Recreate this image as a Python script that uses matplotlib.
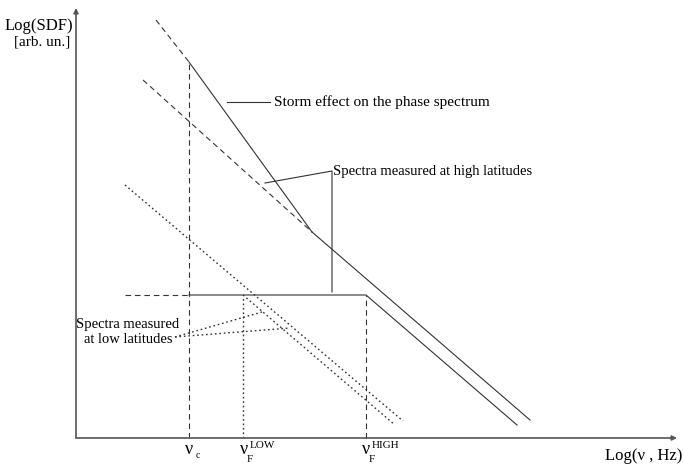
import matplotlib
matplotlib.use('Agg')
import matplotlib.pyplot as plt

# schematic in figure-pixel units (y measured upward)
axis_origin = (76, 30)
axis_top = 460
axis_right = 677

# storm effect line: dashed part, then solid part
storm_dash_x = [156, 189]
storm_dash_y = [448, 406]
storm_solid_x = [189, 312]
storm_solid_y = [406, 236]

# high latitude spectra
high_a_dash_x = [143, 312]
high_a_dash_y = [388, 236]
high_a_solid_x = [312, 530]
high_a_solid_y = [236, 48]
high_b_dash_x = [125, 189]
high_b_dash_y = [173, 173]
high_b_solid_x = [189, 366, 517]
high_b_solid_y = [173, 173, 43]

# low latitude spectra (dotted)
low_c_x = [125, 403]
low_c_y = [283, 47]
low_d_x = [243, 395]
low_d_y = [173, 43]

# marker frequencies
nu_c = 189
nu_f_low = 243
nu_f_high = 366
nu_c_top = 406
nu_f_low_top = 171
nu_f_high_top = 173

# pointer lines
storm_ptr_x = [227, 270]
storm_ptr_y = [366, 366]
high_ptr_x = [265, 332, 332]
high_ptr_y = [285, 297, 176]
low_ptr1_x = [175, 262]
low_ptr1_y = [131, 156]
low_ptr2_x = [175, 290]
low_ptr2_y = [131, 140]

plt.rcParams['font.family'] = ['Liberation Serif', 'DejaVu Serif']

fig = plt.figure(figsize=(6.84, 4.68), dpi=100)
ax = fig.add_axes([0, 0, 1, 1])
ax.set_xlim(0, 684)
ax.set_ylim(0, 468)
ax.axis('off')

lc = '#333333'
lw = 0.8
dash = (0, (5, 3.5))
dot = (0, (1.2, 2))

# axes with arrows
ax.annotate('', xy=(axis_origin[0], axis_top), xytext=axis_origin,
            arrowprops=dict(arrowstyle='-|>', color='#555555', lw=1.2,
                            mutation_scale=7, shrinkA=0, shrinkB=0))
ax.annotate('', xy=(axis_right, axis_origin[1]), xytext=axis_origin,
            arrowprops=dict(arrowstyle='-|>', color='#555555', lw=1.2,
                            mutation_scale=7, shrinkA=0, shrinkB=0))

ax.plot(storm_dash_x, storm_dash_y, color=lc, lw=lw, ls=dash)
ax.plot(storm_solid_x, storm_solid_y, color=lc, lw=lw)
ax.plot(high_a_dash_x, high_a_dash_y, color=lc, lw=lw, ls=dash)
ax.plot(high_a_solid_x, high_a_solid_y, color=lc, lw=lw)
ax.plot(high_b_dash_x, high_b_dash_y, color=lc, lw=lw, ls=dash)
ax.plot(high_b_solid_x, high_b_solid_y, color=lc, lw=lw)
ax.plot(low_c_x, low_c_y, color=lc, lw=1.0, ls=dot)
ax.plot(low_d_x, low_d_y, color=lc, lw=1.0, ls=dot)

# vertical marker lines
ax.plot([nu_c, nu_c], [axis_origin[1], nu_c_top], color=lc, lw=lw, ls=dash)
ax.plot([nu_f_low, nu_f_low], [axis_origin[1], nu_f_low_top], color=lc, lw=1.0, ls=dot)
ax.plot([nu_f_high, nu_f_high], [axis_origin[1], nu_f_high_top], color=lc, lw=lw, ls=dash)

# pointers
ax.plot(storm_ptr_x, storm_ptr_y, color=lc, lw=lw)
ax.plot(high_ptr_x, high_ptr_y, color=lc, lw=lw)
ax.plot(low_ptr1_x, low_ptr1_y, color=lc, lw=1.0, ls=dot)
ax.plot(low_ptr2_x, low_ptr2_y, color=lc, lw=1.0, ls=dot)

fs = 10.5
ax.text(274, 366, 'Storm effect on the phase spectrum', fontsize=fs + 0.5,
        ha='left', va='center')
ax.text(333, 297, 'Spectra measured at high latitudes', fontsize=fs,
        ha='left', va='center')
ax.text(128, 136, 'Spectra measured\nat low latitudes', fontsize=fs,
        ha='center', va='center', multialignment='center', linespacing=1.15)

ax.text(73, 442, 'Log(SDF)', fontsize=12, ha='right', va='center')
ax.text(70, 426, '[arb. un.]', fontsize=11, ha='right', va='center')
ax.text(682, 12, 'Log(\u03bd , Hz)', fontsize=12, ha='right', va='center')

# frequency labels under the x axis
nu_fs = 13
ax.text(189, 19, '\u03bd', fontsize=nu_fs, ha='center', va='center')
ax.text(196, 13, 'c', fontsize=7, ha='left', va='center')
ax.text(244, 19, '\u03bd', fontsize=nu_fs, ha='center', va='center')
ax.text(250, 22, 'LOW', fontsize=8, ha='left', va='center')
ax.text(247, 8, 'F', fontsize=8, ha='left', va='center')
ax.text(366, 19, '\u03bd', fontsize=nu_fs, ha='center', va='center')
ax.text(372, 22, 'HIGH', fontsize=8, ha='left', va='center')
ax.text(369, 8, 'F', fontsize=8, ha='left', va='center')

fig.savefig('out.png', dpi=100)
